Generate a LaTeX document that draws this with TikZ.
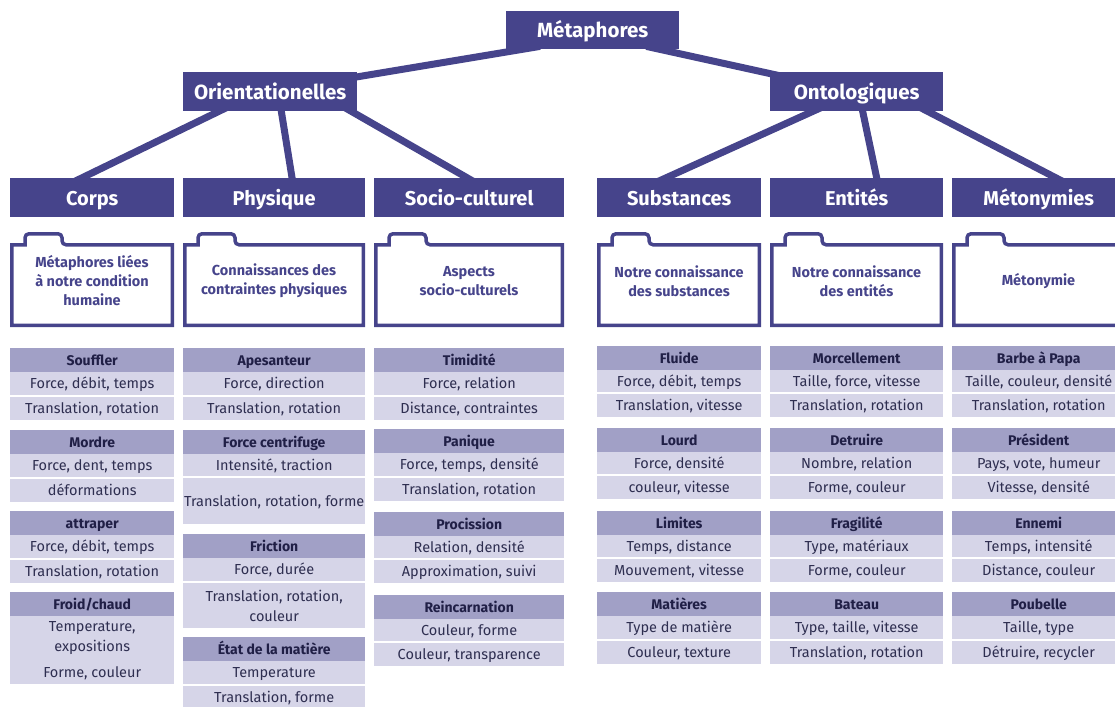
\documentclass[tikz,border=0pt]{standalone}
\usepackage{fontspec}
\setmainfont{Fira Sans}
\usetikzlibrary{calc,backgrounds}
\definecolor{mainp}{RGB}{70,68,139}
\definecolor{hdrc}{RGB}{161,160,198}
\definecolor{rowc}{RGB}{214,213,232}
\definecolor{hdrtext}{RGB}{32,31,70}
\definecolor{rowtext}{RGB}{46,46,80}
\newcommand\tcell[7]{%
  \pgfmathsetmacro\cw{#4-#3}%
  \pgfmathsetmacro\ch{#6-#5}%
  \node[#1,minimum width=\cw pt,minimum height=\ch pt,anchor=north west] (#2) at (#3,#5) {#7};}
\newcommand\grp[9]{%
  \pgfmathsetmacro\ya{#4+24}%
  \pgfmathsetmacro\yb{#4+24+#5}%
  \pgfmathsetmacro\yc{#4+26+#5}%
  \pgfmathsetmacro\yd{#4+26+#5+#6}%
  \tcell{hdr}{#1h}{#2}{#3}{#4}{\ya}{#7}%
  \tcell{row}{#1a}{#2}{#3}{\ya}{\yb}{#8}%
  \tcell{row}{#1b}{#2}{#3}{\yc}{\yd}{#9}}
\newcommand\mkfolder[4]{%
  \draw[foldline] ({#2+1.75},244.75) -- ({#2+15},244.75) [rounded corners=4] -- ({#2+15},233.75)
     -- ({#2+52},233.75) -- ({#2+52},244.75) [sharp corners] -- ({#3-1.75},244.75)
     -- ({#3-1.75},325.25) -- ({#2+1.75},325.25) -- cycle;
  \node[foldtext] (#1) at ({(#2+#3)/2},281) {#4};}
\begin{document}
\begin{tikzpicture}[x=1pt,y=-1pt,
  conn/.style={draw=mainp,line width=7},
  topbox/.style={fill=mainp,text=white,inner sep=0,anchor=north west,
     font=\bfseries\fontsize{20.5}{24}\selectfont,text height=17pt,text depth=2pt},
  lvbox/.style={fill=mainp,text=white,inner sep=0,anchor=north west,minimum height=39,
     font=\bfseries\fontsize{20}{24}\selectfont,text height=17pt,text depth=2pt},
  hdr/.style={fill=hdrc,text=hdrtext,inner sep=0,align=center,
     font=\bfseries\fontsize{14}{18}\selectfont,text height=11.5pt,text depth=0.5pt},
  rowm/.style={fill=rowc,text=rowtext,inner sep=0,align=center,
     font=\fontsize{14.5}{20}\selectfont},
  row/.style={rowm,text height=11.5pt,text depth=1.5pt},
  foldline/.style={draw=mainp,line width=3.5},
  foldtext/.style={text=mainp,align=center,inner sep=0,
     font=\bfseries\fontsize{14.5}{19}\selectfont}]
\useasboundingbox (0,0) rectangle (1115,706);
\clip (0,0) rectangle (1115,706);
% top levels
\node[topbox,minimum width=173,minimum height=38] (meta) at (506,11) {Métaphores};
\node[topbox,minimum width=174,minimum height=39] (orient) at (183,72) {Orientationelles};
\node[topbox,minimum width=173,minimum height=39] (onto) at (770,72) {Ontologiques};
\node[lvbox,minimum width=164] (corps) at (10,178) {Corps};
\node[lvbox,minimum width=182] (phys) at (183,178) {Physique};
\node[lvbox,minimum width=190] (socio) at (374,178) {Socio-culturel};
\node[lvbox,minimum width=164] (subst) at (597,178) {Substances};
\node[lvbox,minimum width=173] (ent) at (770,178) {Entités};
\node[lvbox,minimum width=173] (meto) at (952,178) {Métonymies};
\begin{scope}[on background layer]
  \draw[conn] ($(meta.south west)+(34,-3)$) -- ($(orient.north east)+(-7,6)$);
  \draw[conn] ($(meta.south east)+(-33,-3)$) -- ($(onto.north west)+(20,6)$);
  \draw[conn] ($(orient.south)+(-37,-7)$) -- ($(corps.north)+(-25,7)$);
  \draw[conn] ($(orient.south)+(10,-7)$) -- ($(phys.north)+(19,7)$);
  \draw[conn] ($(orient.south)+(69,-7)$) -- ($(socio.north)+(10.5,7)$);
  \draw[conn] ($(onto.south)+(-28.5,-7)$) -- ($(subst.north)+(-29,7)$);
  \draw[conn] ($(onto.south)+(4.5,-7)$) -- ($(ent.north)+(21.5,7)$);
  \draw[conn] ($(onto.south)+(57.5,-7)$) -- ($(meto.north)+(31,7)$);
\end{scope}
% folders
\mkfolder{fcorps}{10}{174}{Métaphores liées\\à notre condition\\humaine}
\mkfolder{fphys}{183}{365}{Connaissances des\\contraintes physiques}
\mkfolder{fsocio}{374}{564}{Aspects\\socio-culturels}
\mkfolder{fsubst}{597}{761}{Notre connaissance\\des substances}
\mkfolder{fent}{770}{943}{Notre connaissance\\des entités}
\mkfolder{fmeto}{952}{1125}{Métonymie}
% Corps
\grp{souf}{10}{174}{348}{23}{23}{Souffler}{Force, débit, temps}{Translation, rotation}
\grp{mord}{10}{174}{430}{23}{23}{Mordre}{Force, dent, temps}{déformations}
\grp{attr}{10}{174}{511}{23}{23}{attraper}{Force, débit, temps}{Translation, rotation}
\tcell{hdr}{froidh}{10}{174}{592}{616}{Froid/chaud}
\tcell{rowm}{froida}{10}{174}{616}{660}{Temperature,\\expositions}
\tcell{row}{froidb}{10}{174}{660}{684}{Forme, couleur}
% Physique
\grp{apes}{183}{365}{348}{23}{23}{Apesanteur}{Force, direction}{Translation, rotation}
\grp{fcen}{183}{365}{430}{22}{46}{Force centrifuge}{Intensité, traction}{Translation, rotation, forme}
\tcell{hdr}{frich}{183}{365}{534}{558}{Friction}
\tcell{row}{frica}{183}{365}{558}{581}{Force, durée}
\tcell{rowm}{fricb}{183}{365}{583}{628}{Translation, rotation,\\couleur}
\grp{etat}{183}{365}{637}{23}{23}{État de la matière}{Temperature}{Translation, forme}
% Socio-culturel
\grp{timi}{374}{564}{348}{23}{23}{Timidité}{Force, relation}{Distance, contraintes}
\grp{pani}{374}{564}{429}{23}{23}{Panique}{Force, temps, densité}{Translation, rotation}
\grp{proc}{374}{564}{512}{22}{23}{Procission}{Relation, densité}{Approximation, suivi}
\grp{rein}{374}{564}{595}{22}{23}{Reincarnation}{Couleur, forme}{Couleur, transparence}
% Substances
\grp{flui}{597}{761}{346}{22}{23}{Fluide}{Force, débit, temps}{Translation, vitesse}
\grp{lour}{597}{761}{428}{22}{23}{Lourd}{Force, densité}{couleur, vitesse}
\grp{limi}{597}{761}{511}{22}{23}{Limites}{Temps, distance}{Mouvement, vitesse}
\grp{mati}{597}{761}{592}{23}{23}{Matières}{Type de matière}{Couleur, texture}
% Entites
\grp{morc}{770}{943}{346}{22}{23}{Morcellement}{Taille, force, vitesse}{Translation, rotation}
\grp{detr}{770}{943}{428}{22}{23}{Detruire}{Nombre, relation}{Forme, couleur}
\grp{frag}{770}{943}{511}{22}{23}{Fragilité}{Type, matériaux}{Forme, couleur}
\grp{bate}{770}{943}{592}{23}{23}{Bateau}{Type, taille, vitesse}{Translation, rotation}
% Metonymies
\grp{barb}{952}{1125}{346}{22}{23}{Barbe à Papa}{Taille, couleur, densité}{Translation, rotation}
\grp{pres}{952}{1125}{428}{22}{23}{Président}{Pays, vote, humeur}{Vitesse, densité}
\grp{enne}{952}{1125}{511}{22}{23}{Ennemi}{Temps, intensité}{Distance, couleur}
\grp{poub}{952}{1125}{592}{23}{23}{Poubelle}{Taille, type}{Détruire, recycler}
\end{tikzpicture}
\end{document}
